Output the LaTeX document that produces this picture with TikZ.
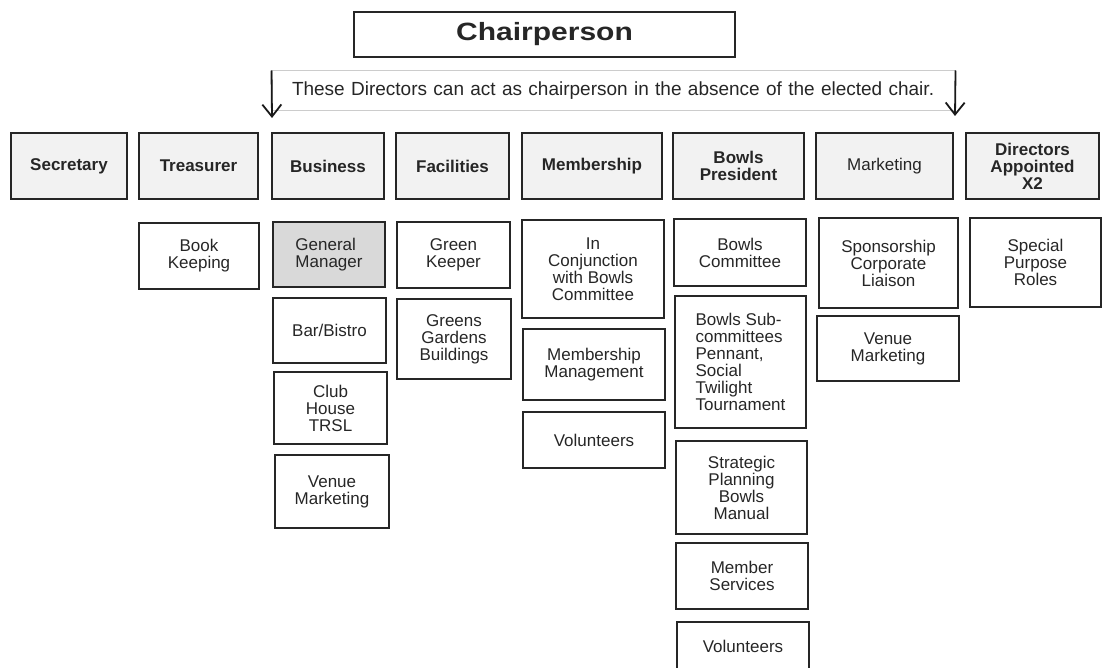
\documentclass[tikz,border=0pt]{standalone}
\usepackage{fontspec}
\setmainfont{Liberation Sans}
\newfontfamily\chairfont{Liberation Sans}[FakeStretch=1.2]
\usetikzlibrary{arrows.meta}

\tikzset{
 box/.style={draw=black!85, line width=1.6pt, inner sep=0pt, align=center, text=black!85, font=\fontsize{17}{17}\selectfont},
 head/.style={box, fill=black!5, font=\fontsize{17}{17}\selectfont\bfseries},
 arr/.style={black!90, line width=1.8pt, ->, >={Straight Barb[length=12pt,width=19pt]}}
}

\begin{document}
\begin{tikzpicture}[x=1pt, y=-1pt]
\clip (0,0) rectangle (1102,668);
\node[box, minimum width=381pt, minimum height=45pt, font=\chairfont\fontsize{25}{25}\selectfont\bfseries] (chair) at (544.5,34.5) {Chairperson};
\node[draw=black!20, line width=1pt, minimum height=40pt, inner xsep=20pt, text width=643pt, align=left, text=black!85, font=\fontsize{19}{19}\selectfont] (note) at (613.5,91) {These Directors can act as chairperson in the absence of the elected chair.};
\coordinate (ltip) at (272,118);
\coordinate (rtip) at (955,116);
\draw[arr] (note.north west) -- (ltip);
\draw[arr] (note.north east) -- (rtip);
\foreach \n/\a/\b/\t in {sec/11/127/Secretary, tre/139/258/Treasurer, bus/272/384/Business, fac/396/509/Facilities, mem/522/662/Membership, bpr/673/804/{Bowls\\President}, mkt/816/953/{\mdseries Marketing}, dir/966/1099/{Directors\\Appointed\\X2}} {
 \pgfmathsetmacro\w{\b-\a}
 \node[head, minimum width=\w pt, minimum height=66pt] (\n) at ({(\a+\b)/2},166) {\t};
}
\foreach \n/\a/\c/\b/\d/\t in {bk/139/223/259/289/{Book\\Keeping}, bar/273/298/386/363/{Bar/Bistro}, club/274/372/387/444/{Club\\House\\TRSL}, vmb/275/455/389/528/{Venue\\Marketing}, gk/397/222/510/288/{Green\\Keeper}, ggb/397/299/511/379/{Greens\\Gardens\\Buildings}, conj/522/220/664/318/{In\\Conjunction\\with Bowls\\Committee}, mm/523/329/665/400/{Membership\\Management}, volm/523/412/665/468/Volunteers, bc/674/219/806/286/{Bowls\\Committee}, spb/676/441/807/534/{Strategic\\Planning\\Bowls\\Manual}, ms/676/543/808/609/{Member\\Services}, volb/677/622/809/670/Volunteers, spc/819/218/958/308/{Sponsorship\\Corporate\\Liaison}, vmm/817/316/959/381/{Venue\\Marketing}, spr/970/218/1101/307/{Special\\Purpose\\Roles}} {
 \pgfmathsetmacro\w{\b-\a}
 \pgfmathsetmacro\h{\d-\c}
 \node[box, minimum width=\w pt, minimum height=\h pt] (\n) at ({(\a+\b)/2},{(\c+\d)/2}) {\t};
}
\node[box, fill=black!15, align=left, minimum width=112pt, minimum height=65pt] (gm) at (329,254.5) {General\\Manager};
\node[box, align=left, minimum width=131pt, minimum height=132pt] (bsub) at (740.5,362) {Bowls Sub-\\committees\\Pennant,\\Social\\Twilight\\Tournament};
\end{tikzpicture}
\end{document}
